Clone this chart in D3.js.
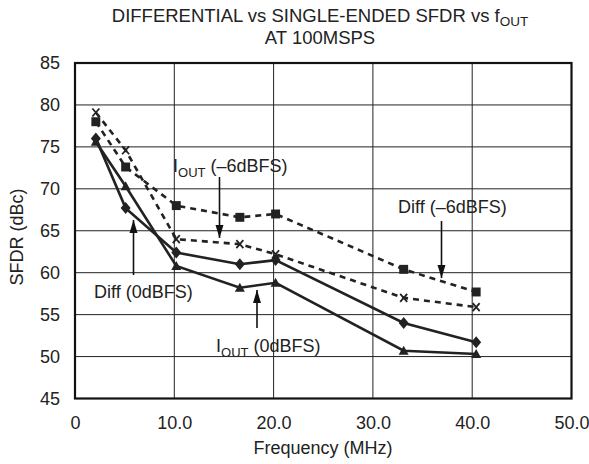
<!DOCTYPE html>
<html>
<head>
<meta charset="utf-8">
<script src="https://cdn.jsdelivr.net/npm/d3@7"></script>
<style>
  html, body { margin: 0; padding: 0; background: #fff; }
  svg text { font-family: "Liberation Sans", Arial, sans-serif; fill: #222; }
</style>
</head>
<body>
<svg id="chart" width="589" height="464"></svg>
<script>
// data
const freq  = [2.1, 5.1, 10.2, 16.6, 20.2, 33.1, 40.4];
const diff6 = [78.0, 72.6, 68.0, 66.6, 67.0, 60.4, 57.7];
const iout6 = [79.1, 74.6, 64.0, 63.4, 62.2, 57.0, 55.9];
const diff0 = [76.0, 67.7, 62.4, 61.0, 61.5, 54.0, 51.7];
const iout0 = [75.6, 70.3, 60.8, 58.2, 58.8, 50.7, 50.3];
const xTicks = [0, 10, 20, 30, 40, 50];
const xTickLabels = ['0', '10.0', '20.0', '30.0', '40.0', '50.0'];
const yTicks = [45, 50, 55, 60, 65, 70, 75, 80, 85];

const FS = 18;
const svg = d3.select('#chart');
const L = 75, R = 571.5, T = 63, B = 398.5;
const x = d3.scaleLinear().domain([0, 50]).range([L, R]);
const y = d3.scaleLinear().domain([45, 85]).range([B, T]);

// grid
svg.append('g').selectAll('line').data(xTicks.slice(1, -1)).enter().append('line')
  .attr('x1', d => x(d)).attr('x2', d => x(d)).attr('y1', T).attr('y2', B)
  .attr('stroke', '#222').attr('stroke-width', 1);
svg.append('g').selectAll('line').data(yTicks.slice(1, -1)).enter().append('line')
  .attr('y1', d => y(d)).attr('y2', d => y(d)).attr('x1', L).attr('x2', R)
  .attr('stroke', '#222').attr('stroke-width', 1);

// tick labels
const xAxis = d3.axisBottom(x).tickValues(xTicks).tickSize(0).tickPadding(18)
  .tickFormat((d, i) => xTickLabels[i]);
svg.append('g').attr('transform', `translate(0,${B})`).call(xAxis)
  .call(g => g.select('.domain').remove())
  .selectAll('text').attr('font-size', FS).attr('fill', '#222')
  .style('font-family', '"Liberation Sans", Arial, sans-serif');
const yAxis = d3.axisLeft(y).tickValues(yTicks).tickSize(0).tickPadding(15);
svg.append('g').attr('transform', `translate(${L},0)`).call(yAxis)
  .call(g => g.select('.domain').remove())
  .selectAll('text').attr('font-size', FS).attr('fill', '#222')
  .style('font-family', '"Liberation Sans", Arial, sans-serif');

// border
svg.append('rect').attr('x', L).attr('y', T).attr('width', R - L).attr('height', B - T)
  .attr('fill', 'none').attr('stroke', '#111').attr('stroke-width', 2.2);

// series
const series = [
  { vals: diff6, dash: '6,5', marker: 'square' },
  { vals: iout6, dash: '6,5', marker: 'x' },
  { vals: diff0, dash: null, marker: 'diamond' },
  { vals: iout0, dash: null, marker: 'triangle' },
];
const line = d3.line().x(d => x(d[0])).y(d => y(d[1]));
series.forEach(s => {
  const pts = freq.map((f, i) => [f, s.vals[i]]);
  svg.append('path').datum(pts).attr('d', line)
    .attr('fill', 'none').attr('stroke', '#222').attr('stroke-width', 2.6)
    .attr('stroke-dasharray', s.dash);
  const g = svg.append('g').selectAll('path').data(pts).enter().append('path')
    .attr('transform', d => `translate(${x(d[0])},${y(d[1])})`)
    .attr('fill', '#222');
  if (s.marker === 'square') g.attr('d', d3.symbol(d3.symbolSquare, 80));
  if (s.marker === 'diamond') g.attr('d', 'M0,-6L5,0L0,6L-5,0Z');
  if (s.marker === 'triangle') g.attr('d', 'M0,-5L5,4L-5,4Z');
  if (s.marker === 'x') g.attr('d', 'M-3.5,-4L3.5,4M3.5,-4L-3.5,4')
    .attr('fill', 'none').attr('stroke', '#222').attr('stroke-width', 1.8);
});

// annotations
function arrow(ax, y0, y1) {
  svg.append('line').attr('x1', ax).attr('x2', ax).attr('y1', y0).attr('y2', y1)
    .attr('stroke', '#111').attr('stroke-width', 1.6);
  const dir = y1 > y0 ? -1 : 1;
  svg.append('path').attr('d', `M${ax},${y1}L${ax - 4},${y1 + dir * 13}L${ax + 4},${y1 + dir * 13}Z`)
    .attr('fill', '#111');
}
function label(tx, ty, main, sub, rest) {
  const t = svg.append('text').attr('x', tx).attr('y', ty).attr('font-size', FS);
  t.append('tspan').text(main);
  if (sub) {
    t.append('tspan').attr('font-size', 13).attr('dy', 5).text(sub);
    t.append('tspan').attr('dy', -5).text(rest);
  }
}
label(173, 172, 'I', 'OUT', ' (–6dBFS)');
arrow(219.5, 177, 238);
label(94, 298, 'Diff (0dBFS)');
arrow(133.5, 275, 220);
label(216, 351.5, 'I', 'OUT', ' (0dBFS)');
arrow(257, 328, 290);
label(398, 212.5, 'Diff (–6dBFS)');
arrow(441.5, 221, 278);

// title
const tt = svg.append('text').attr('x', 320).attr('y', 22).attr('text-anchor', 'middle').attr('font-size', 18.5);
tt.append('tspan').text('DIFFERENTIAL vs SINGLE-ENDED SFDR vs f');
tt.append('tspan').attr('font-size', 13.5).attr('dy', 4).text('OUT');
svg.append('text').attr('x', 320).attr('y', 44).attr('text-anchor', 'middle').attr('font-size', 18.5)
  .text('AT 100MSPS');

// axis titles
svg.append('text').attr('x', 323).attr('y', 453.5).attr('text-anchor', 'middle').attr('font-size', FS)
  .text('Frequency (MHz)');
svg.append('text').attr('transform', 'translate(23,237) rotate(-90)').attr('text-anchor', 'middle')
  .attr('font-size', FS).text('SFDR (dBc)');
</script>
</body>
</html>
